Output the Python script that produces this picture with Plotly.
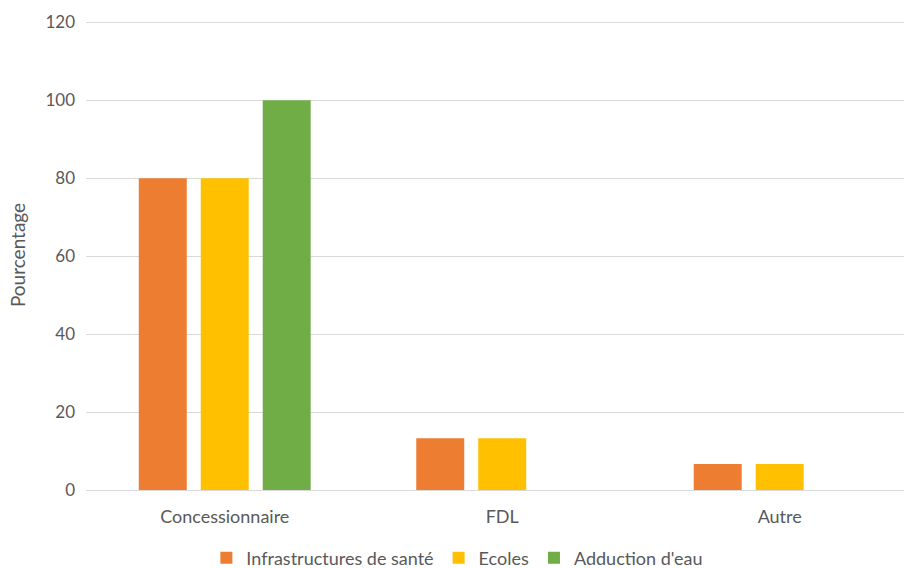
import plotly.graph_objects as go

categories = ["Concessionnaire", "FDL", "Autre"]
sante = [80, 13.3, 6.7]
ecoles = [80, 13.3, 6.7]
eau = [100, 0, 0]
y_ticks = [0, 20, 40, 60, 80, 100, 120]

series = [
    ("Infrastructures de santé", sante, "#ED7D31"),
    ("Ecoles", ecoles, "#FFC000"),
    ("Adduction d'eau", eau, "#70AD47"),
]

fig = go.Figure()
for name, vals, color in series:
    fig.add_trace(go.Bar(
        name=name, x=categories, y=vals,
        marker=dict(color=color, line=dict(width=0)),
    ))

font_family = "Lato, 'Open Sans', sans-serif"
fig.update_layout(
    width=904, height=568,
    margin=dict(l=86, r=0, t=20, b=78, autoexpand=False),
    paper_bgcolor="white", plot_bgcolor="white",
    barmode="group", bargap=0.33, bargroupgap=0.226,
    font=dict(family=font_family, size=17, color="#595959"),
    showlegend=True,
    legend=dict(
        orientation="h", x=0.454, xanchor="center",
        y=-0.145, yanchor="middle",
        font=dict(size=18, color="#595959"), itemwidth=30,
        traceorder="normal",
    ),
    xaxis=dict(
        type="category", range=[-0.5, 2.448], automargin=False,
        showgrid=False, showline=False, zeroline=False,
        ticks="", ticklabelstandoff=14,
        tickfont=dict(size=18, color="#595959"),
    ),
    yaxis=dict(
        range=[0, 120.6], tickvals=y_ticks, automargin=False,
        showgrid=True, gridcolor="#D9D9D9", gridwidth=1,
        zeroline=True, zerolinecolor="#D9D9D9", zerolinewidth=1,
        showline=False, ticks="", ticklabelstandoff=10,
        tickfont=dict(size=17, color="#595959"),
        title=dict(text="Pourcentage", font=dict(size=19, color="#595959"), standoff=14),
    ),
)

fig.write_html("out.html")
